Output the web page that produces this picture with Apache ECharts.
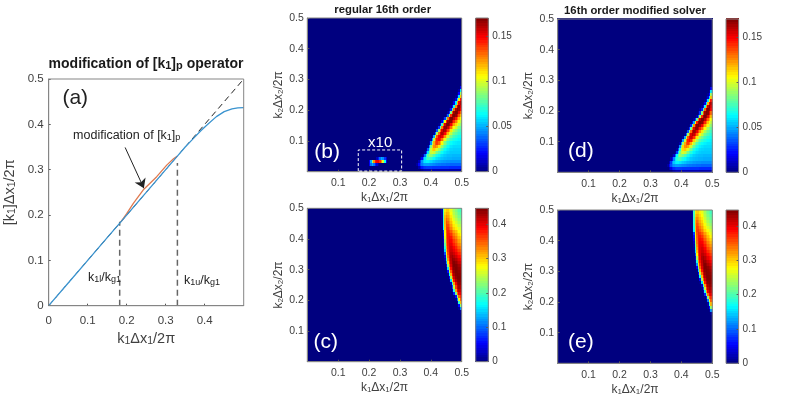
<!DOCTYPE html>
<html>
<head>
<meta charset="utf-8">
<title>chart</title>
<style>
  html, body { margin: 0; padding: 0; background: #fff; }
  #c { width: 789px; height: 399px; filter: blur(0.45px); }
</style>
<script src="https://cdn.jsdelivr.net/npm/echarts@6/dist/echarts.min.js"></script>
</head>
<body>
<div id="c"></div>
<script>
// panel (a)
const kAxis = [0, 0.05, 0.1, 0.15, 0.185, 0.25, 0.3, 0.33, 0.35, 0.37, 0.39, 0.41, 0.43, 0.45, 0.47, 0.485, 0.5];
const kBlue = [0, 0.05, 0.1, 0.15, 0.185, 0.25, 0.3, 0.33, 0.35, 0.368, 0.386, 0.402, 0.417, 0.428, 0.434, 0.4365, 0.437];
const kOrangeX = [0.185, 0.2, 0.217, 0.244, 0.277, 0.3026, 0.32, 0.33];
const kOrangeY = [0.185, 0.203, 0.2257, 0.257, 0.2846, 0.31, 0.324, 0.33];
const kIdeal = [0, 0.5];
const kLower = [0.182, 0.185];
const kUpper = [0.33, 0.315];

// heat maps, thousandths, rows go up from k2=0 in steps of 0.01
// each row is right aligned: last number is the cell next to k1=0.5, cells are 0.005 wide
const lowBandRows = [
  [3,6,8,9,9,9,9,9,9,9,9,9,9,9,9,9,9,9,8,8,8,8,8,8,8,8],
  [8,18,25,28,30,31,31,31,31,30,30,30,30,30,29,29,29,29,29,29,28,28,28,28,28,28,28,28],
  [5,22,34,42,46,48,48,48,47,46,45,44,43,42,41,41,40,40,40,39,39,39,38,38,38,38,38,38,38],
  [10,30,46,55,60,62,62,60,58,56,54,52,51,50,49,48,47,47,46,46,46,45,45,45,45,45,45,45],
  [8,22,44,60,70,75,75,72,68,64,61,59,57,55,54,53,52,52,51,51,51,50,50,50,50,50,50],
  [3,12,40,64,80,88,87,83,77,72,67,63,60,58,56,55,54,53,53,53,52,52,52,52,52,52],
  [4,30,60,84,97,100,97,90,83,76,70,66,62,60,58,57,56,55,55,55,55,55,55,55],
  [5,35,70,98,112,115,110,100,90,82,75,69,65,62,60,58,57,57,56,56,56,56,56],
  [5,45,85,112,125,128,122,110,98,88,80,74,69,65,62,60,59,58,58,58,58,58],
  [6,45,90,120,135,140,132,120,106,94,85,78,72,68,65,63,62,61,60,60,60],
  [6,48,95,128,145,150,144,130,114,102,92,84,78,73,70,68,66,64,63,62],
  [5,50,100,135,152,157,152,140,124,110,99,90,83,78,74,71,69,67,66],
  [4,40,92,132,154,162,158,148,132,118,106,96,88,82,78,75,72,70],
  [3,35,88,130,155,165,162,152,138,124,110,100,92,86,81,77,74],
  [2,30,82,128,155,167,168,158,144,130,116,106,98,91,85,80],
  [2,25,75,125,155,168,170,164,150,136,122,112,104,96,88],
  [18,50,105,145,165,170,168,156,142,128,116,106,96],
  [6,30,80,130,160,170,170,160,146,132,118,105],
  [8,38,95,142,165,170,166,154,136,118],
  [6,30,85,138,165,170,168,152,132],
  [5,25,75,132,163,170,166,150],
  [4,22,68,125,158,168,155],
  [3,18,62,118,150,160],
  [3,16,60,110,145],
  [3,15,58,115],
  [4,22,90],
  [6,60],
  [20]
];
// the x10 spot of (b), rows k2=0.025..0.045, cells from k1=0.2025
const spotFirstRow = 2;
const spotFirstCell = 40;
const spotRows = [
  [20,40,50,40,25,15,5,0,0,0,0,0],
  [20,50,90,125,145,150,150,140,125,100,65,20],
  [0,0,0,0,0,10,25,40,50,45,30,15]
];
// lower panels, first row here is k2=0.165
const highBandFirstRow = 16;
const highBandRows = [
  [12],
  [12,120],
  [6,60,230],
  [20,190,310],
  [8,110,280,350],
  [4,60,230,345,370],
  [4,70,220,340,395,400],
  [25,180,320,395,420,415],
  [6,90,250,365,415,432,425],
  [30,190,320,395,430,440,435],
  [6,150,290,385,425,442,445,440],
  [60,240,350,410,438,446,446,442],
  [10,170,310,390,428,444,446,444,440],
  [60,250,350,410,436,446,444,440,436],
  [6,150,310,385,425,442,446,442,436,430],
  [50,230,345,405,432,446,444,438,430,422],
  [4,120,290,370,415,438,444,436,426,416,408],
  [15,185,325,385,420,438,434,424,414,404,394],
  [40,240,345,395,425,432,422,410,400,390,380],
  [4,90,280,360,400,420,420,410,396,386,376,366],
  [8,150,305,370,400,412,410,398,384,372,362,352],
  [12,185,320,375,400,408,402,390,374,358,348,338],
  [18,210,330,378,398,400,390,376,360,344,334,324],
  [28,235,340,380,394,392,380,364,348,332,320,310],
  [45,260,345,382,388,382,366,350,334,318,306,296],
  [60,275,350,380,380,368,352,336,320,306,292,282],
  [80,285,355,376,368,352,336,320,306,292,278,268],
  [4,165,300,365,368,350,332,315,298,285,275,265,256],
  [6,175,305,362,358,338,320,302,286,272,262,252,244],
  [8,185,310,355,345,325,308,290,275,260,250,240,232],
  [10,190,310,345,332,315,298,280,264,250,240,230,222],
  [14,195,305,330,320,305,288,270,255,240,230,220,212],
  [18,198,295,315,310,295,278,262,246,232,222,212,204],
  [20,200,285,300,300,285,270,255,240,225,215,205,195]
];
const lowMax = 0.17;
const highMax = 0.446;
const lowBarTicks = 0.05;
const highBarTicks = 0.1;
const xBox = [0.165, 0.165, 0.3055, 0.3055, 0.165];
const yBox = [0.002, 0.0707, 0.0707, 0.002, 0.002];

const jet = ['#00007f', '#0000ff', '#007fff', '#00ffff', '#7fff7f', '#ffff00', '#ff7f00', '#ff0000', '#7f0000'];
const font = 'Liberation Sans';
const txt = '#404040';
const frame = '#858585';
const nCols = 100, nRows = 50, nLevels = 64;

const colCats = [], rowCats = [];
for (let i = 0; i < nCols; i++) colCats.push(String(i));
for (let i = 0; i < nRows; i++) rowCats.push(String(i));

function cellsFrom(rows, firstRow, spot) {
  const cells = [];
  for (let r = 0; r < nRows; r++) {
    const row = rows[r - firstRow] || [];
    for (let c = 0; c < nCols; c++) {
      let v = row[c - (nCols - row.length)] || 0;
      if (spot && r >= spotFirstRow && r - spotFirstRow < spotRows.length) {
        v = v || spotRows[r - spotFirstRow][c - spotFirstCell] || 0;
      }
      cells.push([c, r, v / 1000]);
    }
  }
  return cells;
}

// cells snapped to whole pixels so no seams show between them
function renderCell(params, api) {
  const p = api.coord([api.value(0), api.value(1)]);
  const s = api.size([1, 1]);
  const x0 = Math.floor(p[0] - s[0] / 2), x1 = Math.ceil(p[0] + s[0] / 2);
  const y0 = Math.floor(p[1] - s[1] / 2), y1 = Math.ceil(p[1] + s[1] / 2);
  return {
    type: 'rect',
    shape: { x: x0, y: y0, width: x1 - x0, height: y1 - y0 },
    style: { fill: api.visual('color') }
  };
}

const grids = [], xAxes = [], yAxes = [], series = [], visualMaps = [], titles = [];

function subRich(size, color) {
  return { s: { fontSize: size, lineHeight: size, padding: [size + 1, 0, 0, 0], verticalAlign: 'bottom', fontFamily: font, color: color } };
}

function addGrid(left, top, width, height) {
  grids.push({ left: left, top: top, width: width, height: height, outerBoundsMode: 'none', show: true, z: 5, backgroundColor: 'transparent', borderColor: frame, borderWidth: 1 });
  return grids.length - 1;
}

function valueAxis(g, isX, fs, nameSize, extra) {
  return Object.assign({
    type: 'value', gridIndex: g, min: 0, max: 0.5, interval: 0.1, z: 3,
    position: isX ? 'bottom' : 'left',
    axisLine: { show: true, lineStyle: { color: frame, width: 1 } },
    axisTick: { show: true, inside: true, length: 2, lineStyle: { color: '#555' } },
    splitLine: { show: false },
    axisLabel: { fontFamily: font, fontSize: fs, color: txt, margin: 5 },
    nameLocation: 'middle',
    nameMoveOverlap: false,
    nameTextStyle: { fontFamily: font, fontSize: nameSize, color: txt, rich: subRich(nameSize - 4, txt) }
  }, extra);
}

function noteSeries(xi, yi, notes) {
  series.push({
    type: 'scatter', xAxisIndex: xi, yAxisIndex: yi, symbolSize: 0, z: 6, silent: true,
    itemStyle: { opacity: 1 },
    data: notes.map(n => ({
      value: [n[0], n[1]],
      label: { show: true, position: 'inside', opacity: 1, formatter: n[2], fontFamily: font, fontSize: n[3], color: n[4], rich: n[5] || {} }
    }))
  });
}

function addTitle(text, x, y, size) {
  titles.push({
    text: text, left: x, top: y, textAlign: 'center', padding: 0,
    textStyle: {
      fontFamily: font, fontSize: size, fontWeight: 'bold', color: '#1a1a1a',
      rich: { s: { fontSize: size - 3, fontWeight: 'bold', lineHeight: 8, padding: [10, 0, 0, 0], verticalAlign: 'bottom', fontFamily: font, color: '#1a1a1a' } }
    }
  });
}

function heatPanel(box, barLeft, rows, firstRow, spot, max, barStep, note, title) {
  const g = addGrid(box[0], box[1], box[2], box[3]);
  const xCat = xAxes.length, yCat = yAxes.length;
  xAxes.push({ type: 'category', gridIndex: g, data: colCats, show: false });
  yAxes.push({ type: 'category', gridIndex: g, data: rowCats, show: false });
  xAxes.push(valueAxis(g, true, 10.5, 12, {
    name: 'k{s|1}Δx{s|1}/2π', nameGap: 20,
    axisLabel: { fontFamily: font, fontSize: 10.5, color: txt, margin: 6, showMinLabel: false }
  }));
  yAxes.push(valueAxis(g, false, 10.5, 12, {
    name: 'k{s|2}Δx{s|2}/2π', nameGap: 23,
    axisLabel: { fontFamily: font, fontSize: 10.5, color: txt, margin: 3.5, showMinLabel: false }
  }));
  const heatIdx = series.length;
  series.push({
    type: 'custom', renderItem: renderCell, xAxisIndex: xCat, yAxisIndex: yCat, silent: true, progressive: 0,
    encode: { x: 0, y: 1 }, data: cellsFrom(rows, firstRow, spot)
  });
  if (spot) {
    series.push({
      type: 'line', xAxisIndex: xCat + 1, yAxisIndex: yCat + 1, symbol: 'none', z: 6, silent: true,
      lineStyle: { color: '#fff', width: 1, type: [3, 2] },
      data: xBox.map((x, i) => [x, yBox[i]])
    });
  }
  noteSeries(xCat + 1, yCat + 1, note);

  // colorbar
  const bg = addGrid(barLeft, box[1], 12.6, box[3]);
  const levels = [];
  for (let i = 0; i < nLevels; i++) levels.push((i + 0.5) / nLevels * max);
  const bx = xAxes.length, by = yAxes.length;
  xAxes.push({ type: 'category', gridIndex: bg, data: [''], show: false });
  yAxes.push({ type: 'category', gridIndex: bg, data: levels.map(String), show: false });
  yAxes.push({
    type: 'value', gridIndex: bg, position: 'right', min: 0, max: max, interval: barStep, z: 3,
    axisLine: { show: false }, splitLine: { show: false },
    axisTick: { show: true, inside: true, length: 2, lineStyle: { color: '#555' } },
    axisLabel: { fontFamily: font, fontSize: 10, color: txt, margin: 4, showMaxLabel: false }
  });
  const barIdx = series.length;
  series.push({
    type: 'custom', renderItem: renderCell, xAxisIndex: bx, yAxisIndex: by, silent: true, progressive: 0,
    encode: { x: 0, y: 1 }, data: levels.map((v, i) => [0, i, v])
  });
  visualMaps.push({
    show: false, type: 'continuous', min: 0, max: max, dimension: 2,
    seriesIndex: [heatIdx, barIdx], inRange: { color: jet }
  });
  if (title) addTitle(title[0], title[1], title[2], 11.3);
}

// (a)
addGrid(48.7, 79, 195, 226.7);
xAxes.push(valueAxis(0, true, 11.5, 14.5, {
  name: 'k{s|1}Δx{s|1}/2π', nameGap: 26,
  axisLabel: { fontFamily: font, fontSize: 11.5, color: txt, margin: 9, showMaxLabel: false }
}));
yAxes.push(valueAxis(0, false, 11.5, 14.5, { name: '[k{s|1}]Δx{s|1}/2π', nameGap: 31 }));
series.push({
  type: 'line', xAxisIndex: 0, yAxisIndex: 0, symbol: 'none', silent: true,
  lineStyle: { color: '#222', width: 1, type: [6, 4] },
  data: kIdeal.map(v => [v, v])
});
series.push({
  type: 'line', xAxisIndex: 0, yAxisIndex: 0, symbol: 'none', silent: true,
  lineStyle: { color: '#666', width: 1.5, type: [6, 4] },
  data: [[kLower[0], 0], kLower]
});
series.push({
  type: 'line', xAxisIndex: 0, yAxisIndex: 0, symbol: 'none', silent: true,
  lineStyle: { color: '#666', width: 1.5, type: [6, 4] },
  data: [[kUpper[0], 0], kUpper]
});
series.push({
  type: 'line', xAxisIndex: 0, yAxisIndex: 0, symbol: 'none', silent: true,
  lineStyle: { color: '#e07a50', width: 1.3 },
  data: kOrangeX.map((x, i) => [x, kOrangeY[i]])
});
series.push({
  type: 'line', xAxisIndex: 0, yAxisIndex: 0, symbol: 'none', silent: true,
  lineStyle: { color: '#3a93cf', width: 1.3 },
  data: kAxis.map((x, i) => [x, kBlue[i]]),
  markLine: {
    silent: true, symbol: ['none', 'arrow'], symbolSize: 9,
    lineStyle: { color: '#222', width: 1, type: 'solid' }, label: { show: false },
    data: [[{ coord: [0.196, 0.349] }, { coord: [0.244, 0.259] }]]
  }
});
const noteRich = subRich(9, '#222');
noteSeries(0, 0, [
  [0.068, 0.458, '(a)', 21, '#222'],
  [0.2, 0.376, 'modification of [k{s|1}]{s|p}', 12.5, '#222', noteRich],
  [0.143, 0.063, 'k{s|1l}/k{s|g1}', 12.5, '#222', noteRich],
  [0.393, 0.055, 'k{s|1u}/k{s|g1}', 12.5, '#222', noteRich]
]);
addTitle('modification of [k{s|1}]{s|p} operator', 146, 57, 14);

// (b) (c) (d) (e)
heatPanel([307.3, 18, 154.4, 153.7], 475.7, lowBandRows, 0, true, lowMax, lowBarTicks,
  [[0.064, 0.063, '(b)', 21, '#fff'], [0.236, 0.095, 'x10', 15, '#fff']], ['regular 16th order', 382.7, 4]);
heatPanel([307.3, 208.3, 154.4, 153.4], 475.7, highBandRows, highBandFirstRow, false, highMax, highBarTicks,
  [[0.06, 0.065, '(c)', 21, '#fff']], null);
heatPanel([557.7, 19, 154.6, 153.3], 726, lowBandRows, 0, false, lowMax, lowBarTicks,
  [[0.075, 0.068, '(d)', 21, '#fff']], ['16th order modified solver', 635, 5]);
heatPanel([557.7, 210, 154.6, 153.3], 726, highBandRows, highBandFirstRow, false, highMax, highBarTicks,
  [[0.075, 0.068, '(e)', 21, '#fff']], null);

const chart = echarts.init(document.getElementById('c'), null, { renderer: 'canvas' });
chart.setOption({
  animation: false,
  backgroundColor: '#fff',
  textStyle: { fontFamily: font },
  title: titles,
  grid: grids,
  xAxis: xAxes,
  yAxis: yAxes,
  visualMap: visualMaps,
  series: series
});
</script>
</body>
</html>
